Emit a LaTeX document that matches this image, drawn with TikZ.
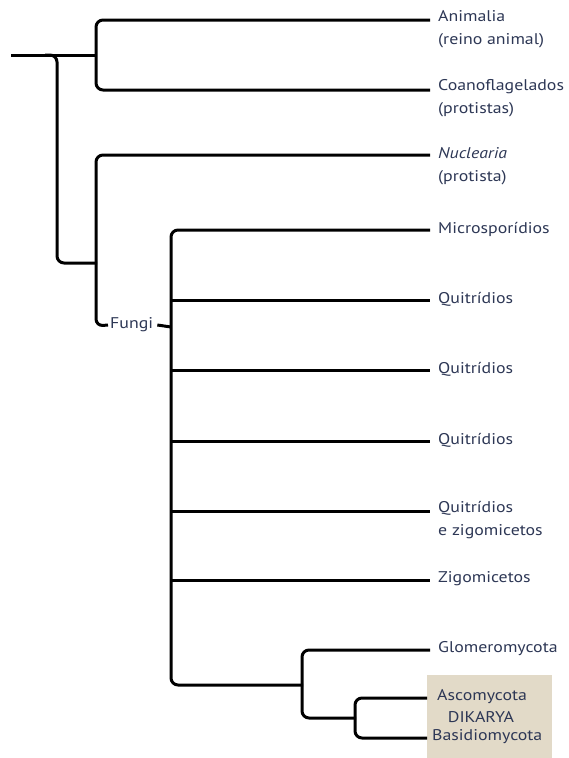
\documentclass[tikz,border=0pt]{standalone}
\usepackage{fontspec}
\setmainfont[FakeStretch=1.15]{PT Sans}
\definecolor{txt}{RGB}{45,55,85}
\definecolor{beige}{RGB}{226,218,200}
\begin{document}
\begin{tikzpicture}[x=1pt,y=-1pt,
  br/.style={line width=3pt,rounded corners=7pt},
  plain/.style={line width=3pt},
  lbl/.style={font=\fontsize{15.5}{23.5}\selectfont,text=txt,inner sep=0pt,anchor=west},
  lbl2/.style={font=\fontsize{15.5}{23.5}\selectfont,text=txt,inner sep=0pt,anchor=north west,align=left}]
\useasboundingbox (0,0) rectangle (569,758);
\fill[beige] (427,675) rectangle (552,758);
% labels
\node[lbl2] (anim) at (438,10) {Animalia\\(reino animal)};
\node[lbl2] (coan) at (438,79) {Coanoflagelados\\(protistas)};
\node[lbl2] (nucl) at (438,147) {\textit{Nuclearia}\\(protista)};
\node[lbl] (micr) at (438,229) {Microsporídios};
\node[lbl] (qui1) at (438,299) {Quitrídios};
\node[lbl] (qui2) at (438,369) {Quitrídios};
\node[lbl] (qui3) at (438,440) {Quitrídios};
\node[lbl2] (quiz) at (438,501) {Quitrídios\\e zigomicetos};
\node[lbl] (zigo) at (438,579) {Zigomicetos};
\node[lbl] (glom) at (438,649) {Glomeromycota};
\node[lbl] (asco) at (437,697) {Ascomycota};
\node[lbl,anchor=center] (dika) at (481,717) {DIKARYA};
\node[lbl] (basi) at (432,737) {Basidiomycota};
\node[lbl] (fung) at (110,325) {Fungi};
% tip coordinates
\coordinate (tA) at (430,20);
\coordinate (tC) at (430,90);
\coordinate (tN) at (430,155);
\coordinate (tM) at (430,230);
\coordinate (tQ1) at (430,300);
\coordinate (tQ2) at (430,370);
\coordinate (tQ3) at (430,441);
\coordinate (tQZ) at (430,511);
\coordinate (tZ) at (430,580);
\coordinate (tG) at (430,650);
\coordinate (tAs) at (427,698);
\coordinate (tB) at (427,738);
\coordinate (root) at (11,55);
% tree
\draw[plain] (root) -- (96,55);
\draw[br] (tA) -- (96,20) -- (96,90) -- (tC);
\draw[br] (45,55) -- (57,55) -- (57,263) -- (97,263);
\draw[br] (tN) -- (96,155) -- (96,326) -- ([xshift=-2pt]fung.west);
\draw[plain] ([xshift=4pt]fung.east) -- (171,327);
\draw[br] (tM) -- (171,230) -- (171,685) -- (303,685);
\foreach \t/\y in {tQ1/300,tQ2/370,tQ3/441,tQZ/511,tZ/580}
  \draw[plain] (171,\y) -- (\t);
\draw[br] (tG) -- (302,650) -- (302,718) -- (356,718);
\draw[br] (tAs) -- (355,698) -- (355,738) -- (tB);
\end{tikzpicture}
\end{document}
